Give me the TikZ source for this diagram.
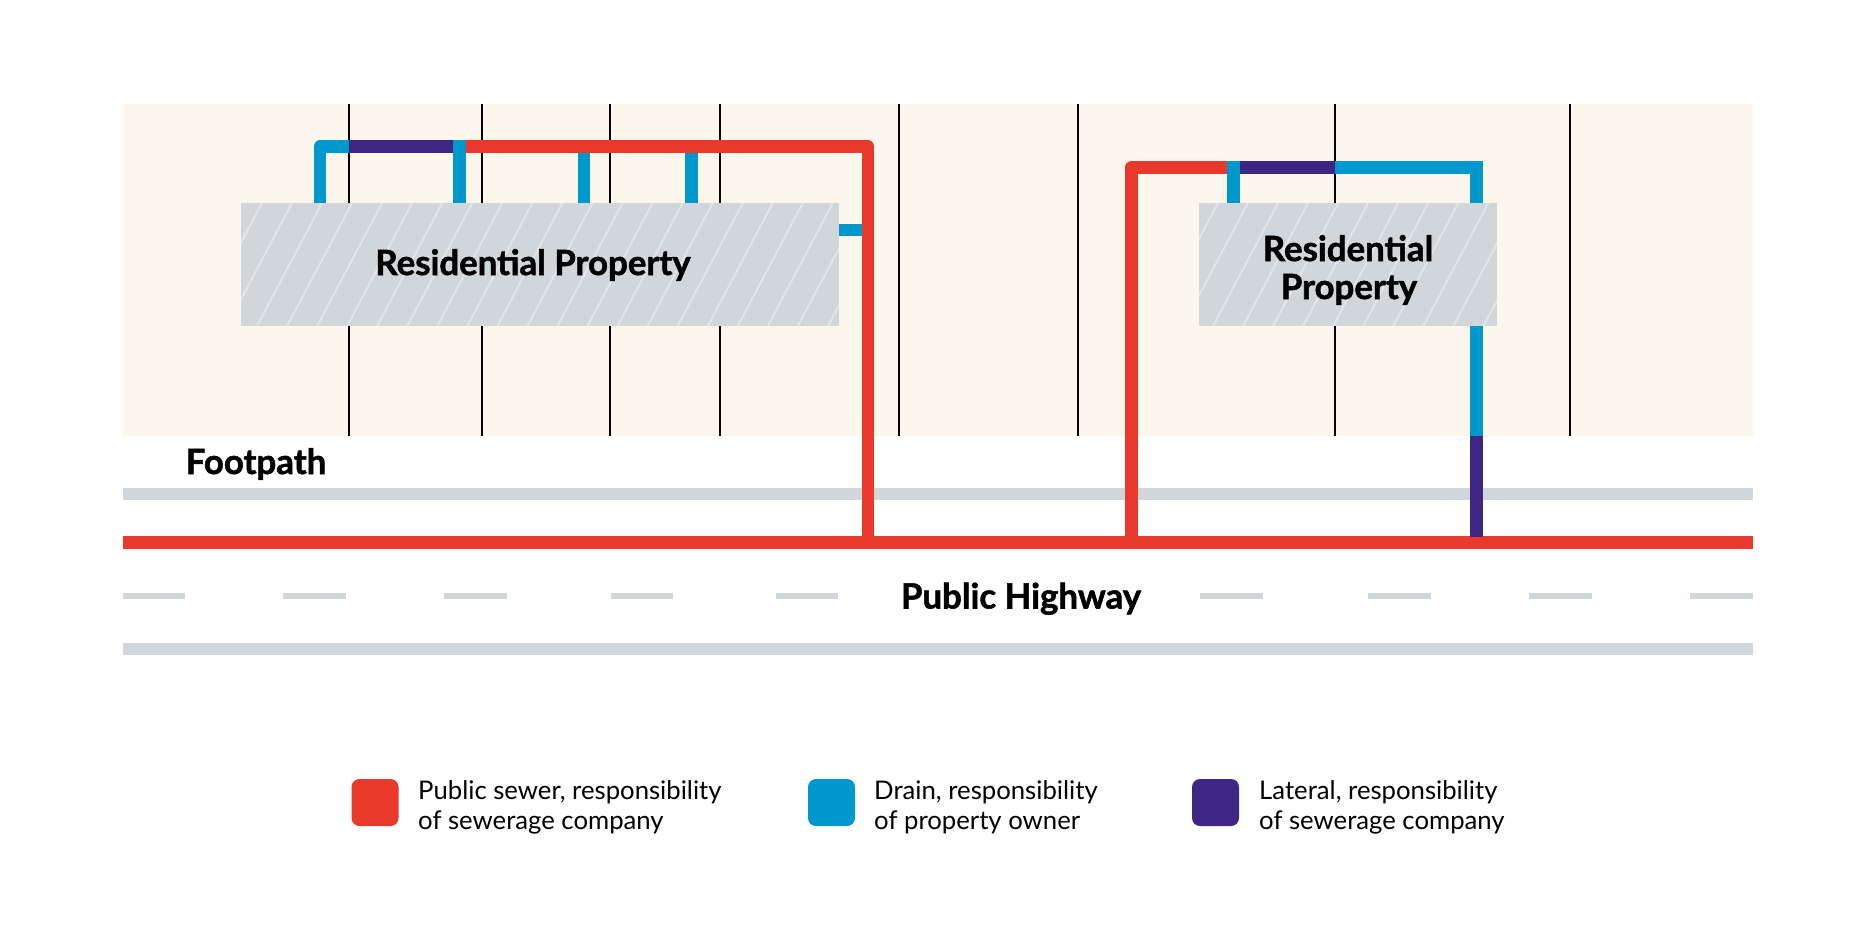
\documentclass[tikz,border=0pt]{standalone}
\usepackage{fontspec}
\setmainfont{Lato}[BoldFeatures={FakeBold=1.5}]
\definecolor{cream}{HTML}{FCF7ED}
\definecolor{road}{HTML}{D1D6DB}
\definecolor{hatch}{HTML}{E2E5E9}
\definecolor{sewer}{HTML}{E8392C}
\definecolor{drain}{HTML}{0097CC}
\definecolor{lateral}{HTML}{3F2684}
\tikzset{
  x=1pt,y=-1pt,
  pipe/.style={line width=12.7pt,line cap=butt,line join=round},
  sewerpipe/.style={pipe,draw=sewer},
  drainpipe/.style={pipe,draw=drain},
  lateralpipe/.style={pipe,draw=lateral},
  fence/.style={draw=black,line width=1.6pt},
  roadline/.style={draw=road,line width=12pt},
  roaddash/.style={draw=road,line width=6pt},
  title/.style={font=\fontsize{34.8}{38}\selectfont\bfseries,text=black,inner sep=0pt,anchor=base},
  legendtext/.style={font=\fontsize{25.7}{30}\selectfont,text=black,inner sep=0pt,anchor=base west},
  swatch/.style={rounded corners=8pt,minimum width=47pt,minimum height=47pt,inner sep=0pt,draw=none},
  house/.style={fill=road,draw=none,inner sep=0pt},
}
\begin{document}
\begin{tikzpicture}
\useasboundingbox (0,0) rectangle (1875,938);
\fill[cream] (123,104) rectangle (1753,436);
% fences
\foreach \x in {349,482,610,720,899,1078,1335,1570}{\draw[fence] (\x,104) -- (\x,436);}
% road
\draw[roadline] (123,494) -- (1753,494);
\draw[roadline] (123,649) -- (1753,649);
\foreach \a/\b in {123/185,283/346,444/507,611/673,776/838,1200/1263,1368/1431,1529/1592,1690/1753}{\draw[roaddash] (\a,596) -- (\b,596);}
% houses
\node[house,minimum width=598pt,minimum height=123pt] (h1) at (540,264.5) {};
\node[house,minimum width=298pt,minimum height=123pt] (h2) at (1348,264.5) {};
\begin{scope}
\clip (241,203) rectangle (839,326);
\foreach \k in {-3,...,20}{\draw[hatch,line width=2pt] ({257+30.05*\k},326) -- ({257+30.05*\k+65},203);}
\end{scope}
\begin{scope}
\clip (1199,203) rectangle (1497,326);
\foreach \k in {-3,...,11}{\draw[hatch,line width=2pt] ({1213+30.05*\k},326) -- ({1213+30.05*\k+65},203);}
\end{scope}
% coordinates
\coordinate (a1) at (320,203); \coordinate (a2) at (320,146.8); \coordinate (a3) at (349,146.8);
\coordinate (a4) at (453,146.8); \coordinate (a5) at (466,146.8); \coordinate (a6) at (868,146.8);
\coordinate (m1) at (123,542.5); \coordinate (m2) at (1753,542.5);
\coordinate (a7) at (868,542.5);
\coordinate (b1) at (1131.5,542.5); \coordinate (b2) at (1131.5,167.5); \coordinate (b3) at (1227,167.5);
\coordinate (b4) at (1240,167.5); \coordinate (b5) at (1335,167.5); \coordinate (b6) at (1476.5,167.5);
\coordinate (b7) at (1476.5,203); \coordinate (b8) at (1476.5,326); \coordinate (b9) at (1476.5,436); \coordinate (b10) at (1476.5,537);
% sewers
\draw[sewerpipe] (a5) -- (a6) -- (a7);
\draw[sewerpipe] (b3) -- (b2) -- (b1);
\draw[sewerpipe] (m1) -- (m2);
% drains, left
\draw[drainpipe] (a1) -- (a2) -- (a3);
\draw[lateralpipe] (a3) -- (a4);
\draw[drainpipe] (459.5,140.4) -- (459.5,203);
\draw[drainpipe] (584,153.2) -- (584,203);
\draw[drainpipe] (691.5,153.2) -- (691.5,203);
\draw[drainpipe] (839,230) -- (862,230);
% drains, right
\draw[drainpipe] (1233.5,161.1) -- (1233.5,203);
\draw[lateralpipe] (b4) -- (b5);
\draw[drainpipe,line join=miter] (b5) -- (b6) -- (b7);
\draw[drainpipe] (b8) -- (b9);
\draw[lateralpipe] (b9) -- (b10);
% labels
\node[title] (t1) at (533,275) {Residential Property};
\node[title] (t2) at (1348,261) {Residential};
\node[title] (t3) at (1349,299) {Property};
\node[title] (t4) at (256,474) {Footpath};
\node[title] (t5) at (1021,608.5) {Public Highway};
% legend
\node[swatch,fill=sewer] (s1) at (375,802.5) {};
\node[swatch,fill=drain] (s2) at (831.5,802.5) {};
\node[swatch,fill=lateral] (s3) at (1215.5,802.5) {};
\node[legendtext] (l1) at (418,799) {Public sewer, responsibility};
\node[legendtext] (l1b) at (418,829) {of sewerage company};
\node[legendtext] (l2) at (874,799) {Drain, responsibility};
\node[legendtext] (l2b) at (874,829) {of property owner};
\node[legendtext] (l3) at (1259,799) {Lateral, responsibility};
\node[legendtext] (l3b) at (1259,829) {of sewerage company};
\end{tikzpicture}
\end{document}
